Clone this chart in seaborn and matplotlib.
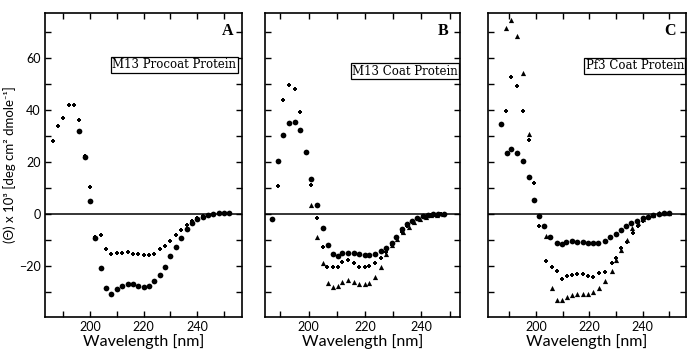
import matplotlib
matplotlib.use("Agg")
import matplotlib.pyplot as plt
import seaborn as sns
import pandas as pd
from matplotlib.ticker import FixedLocator

sns.set_theme(style="ticks")
plt.rcParams['font.family'] = ['Lato', 'DejaVu Sans']

# ---------------- data (wavelength nm, ellipticity x10^3) ----------------
# Panel A: M13 procoat protein
a_cross_x = [186, 188, 190, 192, 194, 196, 198, 200, 202, 204, 206, 208, 210, 212, 214, 216, 218,
             220, 222, 224, 226, 228, 230, 232, 234, 236, 238, 240, 242, 244, 246, 248, 250, 252]
a_cross_y = [28, 34, 37, 42, 42, 36, 22.5, 10.3, -9, -8.2, -13.6, -15.5, -15.1, -14.9, -14.5, -15.5, -15.5,
             -15.8, -15.8, -15.3, -13.6, -12.4, -10.4, -8.2, -6.2, -4.2, -2.7, -1.5, -0.8, -0.3, 0, 0.3, 0.4, 0.3]
a_circ_x = [196, 198, 200, 202, 204, 206, 208, 210, 212, 214, 216, 218, 220, 222, 224, 226, 228,
            230, 232, 234, 236, 238, 240, 242, 244, 246, 248, 250, 252]
a_circ_y = [32, 22, 5, -9.1, -20.6, -28.3, -30.6, -29, -27.7, -27.1, -27.1, -27.7, -28.1, -27.7, -25.8,
            -23.6, -20.3, -16.2, -12.6, -9.1, -5.9, -3.3, -1.9, -1.0, -0.5, 0, 0.3, 0.4, 0.3]

# Panel B: M13 coat protein
b_circ_x = [187, 189, 191, 193, 195, 197, 199, 201, 203, 205, 207, 208.5, 210.5, 212, 214, 216, 218,
            220, 221.5, 223.5, 225.5, 227.5, 229.5, 231, 233, 235, 236.5, 238.5, 240.5, 242.5, 244, 246, 248]
b_circ_y = [-2, 20.5, 30.5, 35, 35.3, 32.3, 24, 13.3, 3.3, -5.5, -12, -15.4, -16, -15.1, -14.9, -15.1, -15.4,
            -15.8, -15.8, -15.4, -14.2, -12.9, -11.3, -9, -5.8, -4, -2.6, -1.7, -0.8, -0.4, -0.1, 0, 0.1]
b_cross_x = [189, 191, 193, 195, 197, 199, 201, 203, 205, 206.5, 208.5, 210.5, 212, 214, 216, 218,
             220, 221.5, 223.5, 225.5, 227.5, 229.5, 231, 233, 235, 237, 239, 241, 243, 245, 247]
b_cross_y = [10.8, 43.8, 49.5, 48, 39.1, 24, 11.2, -1.4, -12.6, -20.3, -20.3, -20.3, -18.6, -17.7, -19, -20.5,
             -20.3, -19.9, -19, -17, -14.5, -11.9, -9.1, -7, -4.6, -3, -1.8, -1, -0.5, -0.2, 0]
b_tri_x = [201, 203, 205, 207, 208.5, 210.5, 212, 214, 216, 218, 220, 221.5, 223.5, 225.5, 227.5,
           229.5, 231.5, 233.5, 235.5, 237.5, 239.5, 241.5, 243.5, 245.5, 247.5]
b_tri_y = [3.3, -9, -19, -26.7, -27.9, -27.7, -26.3, -25.4, -26.3, -26.9, -26.9, -26.4, -24.1, -20.5, -15.5,
           -12, -9.5, -7, -4.8, -3, -1.8, -1, -0.5, -0.2, 0]

# Panel C: Pf3 coat protein
c_circ_x = [186.7, 189, 190.8, 193, 195.1, 197.3, 199.1, 201.2, 203.1, 205.3, 207.8, 209.6, 211.4, 213.5,
            215.4, 217.5, 219.4, 221.3, 223.4, 225.8, 227.9, 229.8, 231.8, 233.8, 235.7, 237.9, 240, 242,
            244, 246, 248, 250]
c_circ_y = [34.7, 23.6, 25, 23.6, 20.5, 14.2, 5.2, -0.7, -4.5, -8.9, -11, -11.6, -10.8, -10.3,
            -10.6, -10.6, -11, -11.2, -11, -10.3, -8.7, -7.8, -6.1, -4.5, -3.5, -2.6, -1.7, -1,
            -0.4, 0, 0.3, 0.4]
c_cross_x = [188.6, 190.8, 193, 195.1, 197.3, 199.1, 201.2, 203.7, 205.8, 207.8, 209.6, 211.5, 213.6, 215.5,
             217.6, 219.6, 221.4, 223.6, 225.8, 228.3, 230.1, 232, 234.2, 236.3, 238.2, 240, 241.8, 244, 246, 248]
c_cross_y = [39.8, 52.6, 49.3, 39.6, 28.5, 11.8, -4.5, -17.9, -20.2, -22.1, -24.8, -23.8, -23.3, -22.9,
             -22.9, -24, -24.3, -22.8, -22.4, -18.7, -17, -12.9, -10.6, -7.4, -4.5, -2.6, -1.3, -0.4, 0, 0.3]
c_tri_x = [188.6, 190.8, 193, 195.1, 197.3, 203.7, 205.8, 207.8, 209.6, 211.5, 213.6, 215.5, 217.6, 219.6,
           221.4, 223.6, 225.8, 228.3, 230.1, 232, 234, 236.1, 238.1, 240, 242, 244, 246, 248, 250]
c_tri_y = [71.5, 74.7, 68.6, 54.2, 30.9, -8.4, -28.3, -33, -33.2, -32, -31, -30.8, -30.8, -30.7,
           -30.1, -28.4, -25.6, -22.1, -17.6, -13.8, -10, -5.5, -3.5, -1.8, -0.8, -0.2, 0.2, 0.4, 0.4]

panel_letters = ["A", "B", "C"]
panel_titles = ["M13 Procoat Protein", "M13 Coat Protein", "Pf3 Coat Protein"]
x_major = [200, 220, 240]
x_minor = [190, 210, 230, 250]
y_major = [-20, 0, 20, 40, 60]
y_minor = [-30, -10, 10, 30, 50, 70]
xlabel = "Wavelength [nm]"
ylabel = "(Θ) x 10³ [deg cm² dmole⁻¹]"

series = {
    0: [(a_cross_x, a_cross_y, "P", 11), (a_circ_x, a_circ_y, "o", 17)],
    1: [(b_circ_x, b_circ_y, "o", 17), (b_cross_x, b_cross_y, "P", 11), (b_tri_x, b_tri_y, "^", 14)],
    2: [(c_circ_x, c_circ_y, "o", 17), (c_cross_x, c_cross_y, "P", 11), (c_tri_x, c_tri_y, "^", 14)],
}

# ---------------- layout ----------------
W, H = 688, 351
fig = plt.figure(figsize=(W / 100, H / 100), dpi=100)
boxes_px = [(45, 242), (265, 460), (488, 686)]
top_px, bot_px = 13, 317
xlims = [(183.2, 256.7), (184.5, 253.7), (182.0, 256.2)]
ylim = (-39.6, 77.3)
letter_pos = [(0.955, 0.94), (0.94, 0.94), (0.95, 0.94)]
title_pos = [(0.97, 0.829), (0.99, 0.809), (0.99, 0.826)]

for i, (x0, x1) in enumerate(boxes_px):
    ax = fig.add_axes([x0 / W, (H - bot_px) / H, (x1 - x0) / W, (bot_px - top_px) / H])
    ax.axhline(0, color="black", lw=1.1, zorder=1)
    for xs, ys, mk, sz in series[i]:
        df = pd.DataFrame({"wl": xs, "theta": ys})
        sns.scatterplot(data=df, x="wl", y="theta", ax=ax, marker=mk, s=sz,
                        color="black", linewidth=0, legend=False, zorder=3)
    ax.set_xlim(*xlims[i])
    ax.set_ylim(*ylim)
    ax.xaxis.set_major_locator(FixedLocator(x_major))
    ax.xaxis.set_minor_locator(FixedLocator(x_minor))
    ax.yaxis.set_major_locator(FixedLocator(y_major))
    ax.yaxis.set_minor_locator(FixedLocator(y_minor))
    ax.tick_params(which="both", direction="in", top=True, right=True, length=4,
                   width=1, color="black", labelsize=9, labelcolor="black", pad=3)
    for sp in ax.spines.values():
        sp.set_linewidth(1.2)
        sp.set_color("black")
    ax.set_xlabel(xlabel, fontsize=11.5, color="black", labelpad=1)
    if i == 0:
        ax.set_ylabel(ylabel, fontsize=9.5, color="black", labelpad=2)
    else:
        ax.set_ylabel("")
        ax.tick_params(labelleft=False)
    ax.text(*letter_pos[i], panel_letters[i], transform=ax.transAxes, ha="right", va="center",
            fontfamily="Liberation Serif", fontweight="bold", fontsize=11.5, color="black")
    ax.text(*title_pos[i], panel_titles[i], transform=ax.transAxes, ha="right", va="center",
            fontfamily="DejaVu Serif", fontsize=8.5, color="black",
            bbox=dict(boxstyle="square,pad=0.12", fc="white", ec="black", lw=0.9))

fig.savefig("out.png", dpi=100)
